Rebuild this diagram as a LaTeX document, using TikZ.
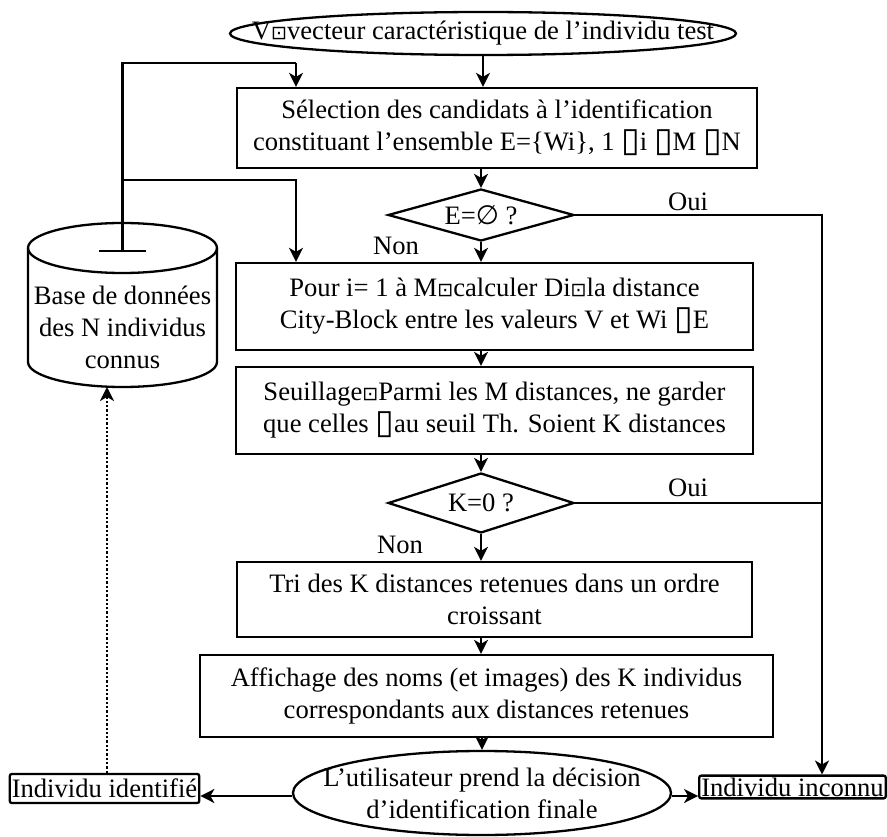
\documentclass[tikz,border=0pt]{standalone}
\usepackage{fontspec}
\setmainfont{Liberation Serif}
\newfontfamily\symfont{DejaVu Sans}
\usetikzlibrary{shapes.geometric,arrows.meta}
\newcommand\dotbox{{\symfont\fontsize{19}{19}\selectfont ⊡}}
\newcommand\nobox{{\symfont\fontsize{34}{34}\selectfont\raisebox{-1pt}{▯}}}
\newcommand\emptysetsym{{\symfont ∅}}
\begin{document}
\begin{tikzpicture}[x=1pt,y=-1pt,
  every node/.style={font=\fontsize{26.6}{32}\selectfont, inner sep=0pt},
  proc/.style={draw, line width=2.3pt, align=center},
  dec/.style={draw, diamond, line width=2.3pt},
  term/.style={draw, ellipse, line width=2.3pt},
  outbox/.style={draw, line width=2.3pt, rounded corners=2pt, inner sep=2pt},
  conn/.style={line width=2.3pt},
  arr/.style={conn, -{Stealth[length=14pt,width=14pt,inset=4pt]}},
  tbar/.style={conn, {Bar[width=47pt]}-},
]
\useasboundingbox (0,0) rectangle (887,837);

% terminals and steps
\node[term, minimum width=506pt, minimum height=43pt,
  label={center:V\dotbox vecteur caractéristique de l’individu test}] (start) at (483,33.5) {};
\node[proc, minimum width=520pt, minimum height=80pt] (box1) at (497,128)
  {Sélection des candidats à l’identification\\constituant l’ensemble E=\{Wi\}, 1 \nobox i \nobox M \nobox N};
\node[dec, minimum width=186pt, minimum height=52pt,
  label={center:E=\emptysetsym\ ?}] (dec1) at (481,215) {};
\node[proc, minimum width=517pt, minimum height=87pt] (box2) at (494.5,306.5)
  {Pour i= 1 à M\dotbox calculer Di\dotbox la distance\\City-Block entre les valeurs V et Wi \nobox E};
\node[proc, minimum width=517pt, minimum height=87pt] (box3) at (494.5,410.5)
  {Seuillage\dotbox Parmi les M distances, ne garder\\que celles \nobox au seuil Th. Soient K distances};
\node[dec, minimum width=186pt, minimum height=60pt,
  label={center:K=0 ?}] (dec2) at (481,503) {};
\node[proc, minimum width=515pt, minimum height=75pt] (box4) at (494.5,599.5)
  {Tri des K distances retenues dans un ordre\\croissant};
\node[proc, minimum width=573pt, minimum height=82pt] (box5) at (486.5,696)
  {Affichage des noms (et images) des K individus\\correspondants aux distances retenues};
\node[term, minimum width=378pt, minimum height=84pt,
  label={[align=center]center:L’utilisateur prend la décision\\d’identification finale}] (final) at (482,793) {};
\node[outbox, minimum width=187pt, minimum height=29pt] (ident) at (104.5,788.5) {Individu identifié};
\node[outbox, minimum width=185pt, minimum height=21pt] (inconnu) at (792.5,787) {Individu inconnu};

% database cylinder
\node[align=center] (db) at (122.5,327) {Base de données\\des N individus\\connus};
\coordinate (dbtop) at (122.5,252);
\coordinate (dbbottom) at (122.5,387);
\draw[conn] (28,248) -- (28,362) arc[start angle=180,end angle=360,x radius=94.5pt,y radius=25pt]
  -- (217,248) arc[start angle=0,end angle=180,x radius=94.5pt,y radius=25pt];
\draw[conn] (28,248) arc[start angle=180,end angle=360,x radius=94.5pt,y radius=25pt];

% labels
\node (oui1) at (688,202) {Oui};
\node (non1) at (396,246) {Non};
\node (oui2) at (688,488) {Oui};
\node (non2) at (400,545) {Non};

% main flow
\draw[arr] (start.south) -- (start.south |- box1.north);
\draw[arr] (dec1.north |- box1.south) -- (dec1.north);
\draw[arr] (dec1.south) -- (dec1.south |- box2.north);
\draw[arr] (dec1.south |- box2.south) -- (dec1.south |- box3.north);
\draw[arr] (dec2.north |- box3.south) -- (dec2.north);
\draw[arr] (dec2.south) -- (dec2.south |- box4.north);
\draw[arr] (dec2.south |- box4.south) -- (dec2.south |- box5.north);
\draw[arr] (final.north |- box5.south) -- (final.north);
\draw[arr] (final.west |- 0,796) -- (ident.east |- 0,796);
\draw[arr] (final.east |- 0,796) -- (inconnu.west |- 0,796);

% yes branches
\coordinate (rx) at (822,215);
\draw[arr] (dec1.east) -- (dec1.east -| rx) -- (rx |- inconnu.north);
\draw[conn] (dec2.east) -- (dec2.east -| rx);

% database links
\coordinate (tl) at (122.5,63);
\coordinate (bl) at (122.5,180);
\coordinate (bx) at (296,63);
\draw[tbar] (dbtop) -- (tl) -- (bx);
\draw[arr] (bx) -- (bx |- box1.north);
\draw[arr] (bl) -- (bl -| bx) -- (bx |- box2.north);
\draw[arr, dotted] (ident.north -| 107,0) -- (107,0 |- dbbottom);
\end{tikzpicture}
\end{document}
